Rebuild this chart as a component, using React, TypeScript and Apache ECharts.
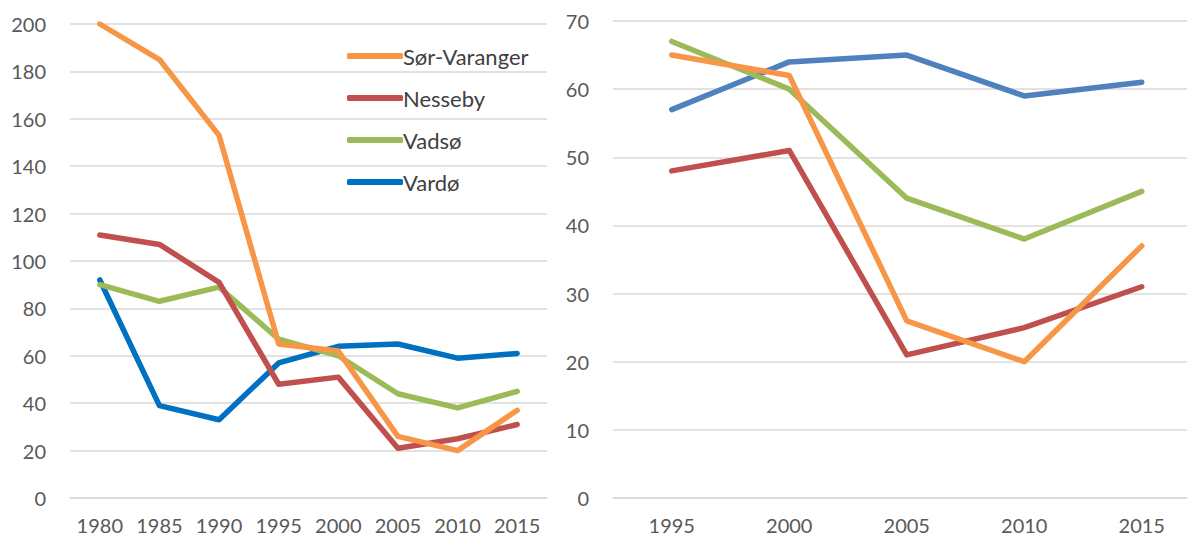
import React, { useEffect, useRef } from "react";
import * as echarts from "echarts";

const yearsLeft = ["1980", "1985", "1990", "1995", "2000", "2005", "2010", "2015"];
const yearsRight = ["1995", "2000", "2005", "2010", "2015"];

const sorVarangerLeft = [200, 185, 153, 65, 62, 26, 20, 37];
const nessebyLeft = [111, 107, 91, 48, 51, 21, 25, 31];
const vadsoLeft = [90, 83, 89, 67, 60, 44, 38, 45];
const vardoLeft = [92, 39, 33, 57, 64, 65, 59, 61];

const sorVarangerRight = [65, 62, 26, 20, 37];
const nessebyRight = [48, 51, 21, 25, 31];
const vadsoRight = [67, 60, 44, 38, 45];
const vardoRight = [57, 64, 65, 59, 61];

const names = ["Sør-Varanger", "Nesseby", "Vadsø", "Vardø"];
const colorsLeft = ["#F79646", "#C0504D", "#9BBB59", "#0070C0"];
const colorsRight = ["#F79646", "#C0504D", "#9BBB59", "#4F81BD"];

const FONT = "Lato";
const CHART_W = 1206;

export default function App() {
  const ref = useRef<HTMLDivElement>(null);
  useEffect(() => {
    if (!ref.current) return;
    const chart = echarts.init(ref.current, undefined, { renderer: "svg" });
    const axisLabel = { color: "#595959", fontSize: 20, fontFamily: FONT };
    const splitLine = { show: true, lineStyle: { color: "#D9D9D9", width: 1.5 } };
    const xAxisCommon = {
      type: "category" as const,
      boundaryGap: true,
      axisLine: { show: true, lineStyle: { color: "#D9D9D9", width: 1.5 } },
      axisTick: { show: false },
      axisLabel: { ...axisLabel, lineHeight: 20, margin: 17, interval: 0, hideOverlap: false },
    };
    const yAxisCommon = {
      type: "value" as const,
      axisLine: { show: false },
      axisTick: { show: false },
      splitLine,
    };
    const leftData = [sorVarangerLeft, nessebyLeft, vadsoLeft, vardoLeft];
    const rightData = [sorVarangerRight, nessebyRight, vadsoRight, vardoRight];
    const series: any[] = [];
    leftData.forEach((d, i) =>
      series.push({
        name: names[i],
        type: "line",
        xAxisIndex: 0,
        yAxisIndex: 0,
        data: d,
        symbol: "none",
        lineStyle: { width: 5.5, color: colorsLeft[i], cap: "round", join: "round" },
        itemStyle: { color: colorsLeft[i] },
        z: 10 - i,
      })
    );
    rightData.forEach((d, i) =>
      series.push({
        name: names[i] + " ",
        type: "line",
        xAxisIndex: 1,
        yAxisIndex: 1,
        data: d,
        symbol: "none",
        lineStyle: { width: 5.5, color: colorsRight[i], cap: "round", join: "round" },
        itemStyle: { color: colorsRight[i] },
        z: 10 - i,
      })
    );
    chart.setOption({
      animation: false,
      backgroundColor: "#FFFFFF",
      legend: {
        data: names,
        orient: "vertical",
        left: 342,
        top: 40,
        itemWidth: 56,
        itemHeight: 6,
        itemGap: 20,
        icon: "roundRect",
        textStyle: { color: "#404040", fontSize: 22, fontFamily: FONT, lineHeight: 22, padding: [0, 0, 0, -5] },
      },
      grid: [
        { left: 70, right: CHART_W - 547, top: 24, bottom: 39, containLabel: false },
        { left: 613, right: CHART_W - 1200.5, top: 21, bottom: 39, containLabel: false },
      ],
      xAxis: [
        { ...xAxisCommon, gridIndex: 0, data: yearsLeft },
        { ...xAxisCommon, gridIndex: 1, data: yearsRight },
      ],
      yAxis: [
        { ...yAxisCommon, gridIndex: 0, min: 0, max: 200, interval: 20, axisLabel: { ...axisLabel, margin: 24 } },
        { ...yAxisCommon, gridIndex: 1, min: 0, max: 70, interval: 10, axisLabel: { ...axisLabel, margin: 24 } },
      ],
      series,
    });
    return () => chart.dispose();
  }, []);
  return (
    <div
      ref={ref}
      style={{ position: "fixed", left: 0, top: 0, width: CHART_W, height: 537 }}
    />
  );
}
